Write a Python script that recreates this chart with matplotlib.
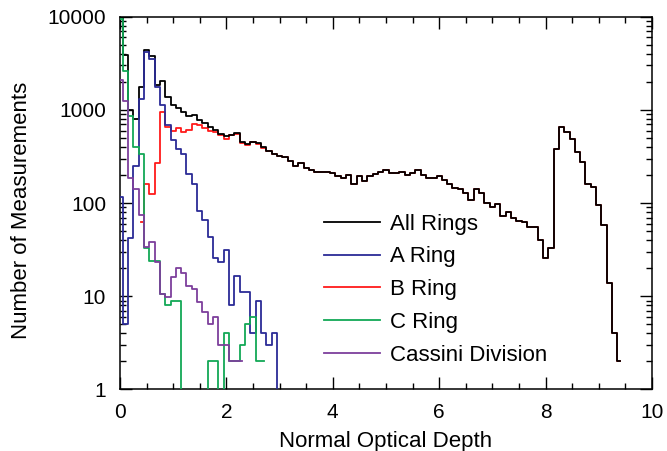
import numpy as np
import matplotlib
matplotlib.use("Agg")
import matplotlib.pyplot as plt
from matplotlib.ticker import FixedLocator, MultipleLocator, NullFormatter, LogLocator

plt.rcParams['font.family'] = ['Liberation Sans', 'DejaVu Sans']

bin_width = 0.1

# All rings: bins centred at 0.0 ... 9.4
all_rings = [11000, 3900, 1000, 800, 1750, 4400, 3750, 1850, 2050, 1380,
             1120, 1040, 950, 860, 880, 780, 720, 660, 610, 557,
             521, 543, 565, 453, 435, 453, 442, 395, 363, 340,
             320, 313, 285, 250, 270, 240, 229, 215, 213, 214,
             208, 197, 186, 201, 160, 196, 174, 195, 205, 213,
             224, 210, 210, 218, 198, 208, 225, 200, 186, 184,
             194, 176, 162, 145, 140, 127, 109, 140, 128, 100,
             91, 97, 72, 80, 70, 65, 63, 55, 56, 40,
             25.5, 32.6, 380, 660, 585, 483, 355, 277, 162, 150,
             96, 58, 14, 4, 2]
all_start = 0.0

# A ring: bins centred at 0.0 ... 3.4
a_ring = [116, 5, 42, 250, 1320, 4170, 3530, 1740, 1120, 684,
          472, 385, 334, 204, 162, 82, 66, 43, 25.5, 23.5,
          31, 8, 16.5, 11, 11, 4, 9, 4, 3, 4,
          0, 0, 0, 0, 0]
a_start = 0.0

# B ring: bins centred at 0.4 ... 2.9, then identical to all rings from 3.0
b_ring_low = [63, 162, 125, 270, 950, 656, 590, 640, 580, 610,
              713, 680, 634, 597, 574, 533, 493, 535, 548, 442,
              424, 449, 433, 391, 360, 336]
b_ring = b_ring_low + all_rings[30:]
b_start = 0.4

# C ring: bins centred at 0.0 ... 2.7
c_ring = [9500, 2600, 850, 400, 340, 33, 24, 24, 10.7, 8,
          9, 9, 0, 0, 0, 0, 0, 2, 2, 0,
          4, 2, 2, 3, 5, 6, 2, 2]
c_start = 0.0

# Cassini Division: bins centred at 0.0 ... 2.3
cassini = [2075, 1260, 184, 143, 74, 34, 38, 23.5, 10.7, 9.9,
           16, 20, 17.6, 12.8, 12, 8.7, 6.8, 5, 6, 3,
           3, 2, 2, 2]
cd_start = 0.0

labels = ['All Rings', 'A Ring', 'B Ring', 'C Ring', 'Cassini Division']
colors = ['#000000', '#2b2b96', '#ff1a1a', '#12a856', '#7d3f9c']

x_ticks = [0, 2, 4, 6, 8, 10]
y_ticks = [1, 10, 100, 1000, 10000]
y_tick_labels = ['1', '10', '100', '1000', '10000']


def centres(start, values):
    return start + bin_width * np.arange(len(values))


fig = plt.figure(figsize=(6.67, 4.51), dpi=100)
ax = fig.add_axes([0.1799, 0.1364, 0.7976, 0.8266])
ax.set_yscale('log', nonpositive='clip')

# (start, values, legend index, z-order)
series = [(b_start, b_ring, 2, 2.0), (all_start, all_rings, 0, 2.5),
          (a_start, a_ring, 1, 3.0), (c_start, c_ring, 3, 3.1),
          (cd_start, cassini, 4, 3.2)]
handles = {}
for start, vals, idx, z in series:
    ln, = ax.step(centres(start, vals), vals, where='mid', color=colors[idx],
                  lw=1.3, label=labels[idx], zorder=z)
    handles[idx] = ln

ax.set_xlim(0, 10)
ax.set_ylim(1, 10000)

ax.xaxis.set_major_locator(FixedLocator(x_ticks))
ax.set_xticklabels([str(t) for t in x_ticks])
ax.xaxis.set_minor_locator(MultipleLocator(0.5))
ax.yaxis.set_major_locator(FixedLocator(y_ticks))
ax.set_yticklabels(y_tick_labels)
ax.yaxis.set_minor_locator(LogLocator(base=10, subs=np.arange(2, 10)))
ax.yaxis.set_minor_formatter(NullFormatter())

ax.tick_params(which='both', direction='in', top=True, right=True,
               labelsize=15, width=1.0, colors='black')
ax.tick_params(which='major', length=8.5, pad=10)
ax.tick_params(which='minor', length=4.5)
for s in ax.spines.values():
    s.set_linewidth(1.1)

ax.set_xlabel('Normal Optical Depth', fontsize=16, labelpad=6)
ax.set_ylabel('Number of Measurements', fontsize=16)
ax.yaxis.set_label_coords(-0.165, 0.48)

leg = ax.legend([handles[i] for i in range(5)], labels, loc='upper left',
                bbox_to_anchor=(0.383, 0.472), frameon=False, fontsize=16,
                handlelength=2.55, handletextpad=0.42, labelspacing=0.53,
                borderpad=0, borderaxespad=0)

fig.savefig('out.png', dpi=100)
